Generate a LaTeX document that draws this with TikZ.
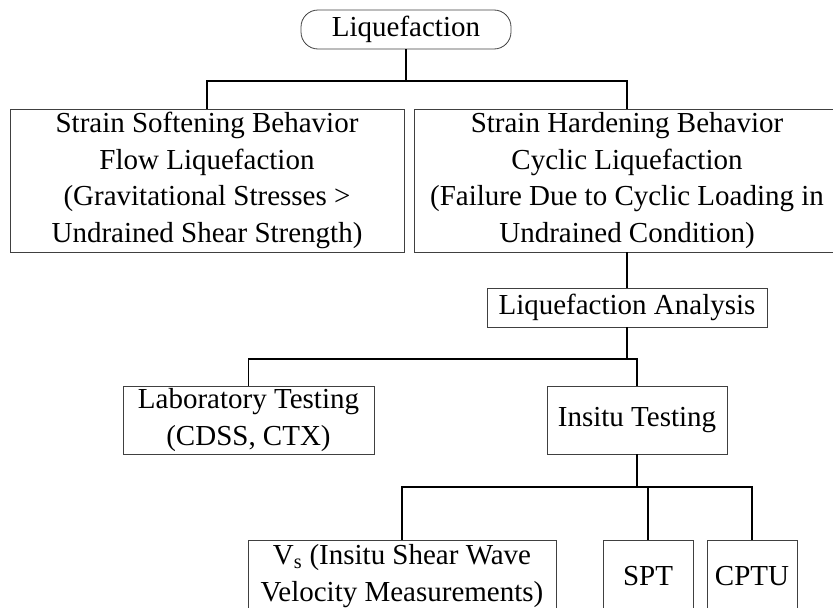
\documentclass[tikz,border=0pt]{standalone}
\usepackage{fontspec}
\setmainfont{Liberation Serif}
\begin{document}
\begin{tikzpicture}
        [x=1pt, y=-1pt,
        box/.style={rectangle, draw=black!75, line width=0.8pt, align=center, inner sep=0pt,
          font=\fontsize{29}{36.5}\selectfont},
        root/.style={box, rounded corners=17pt},
        link/.style={line width=1.6pt, black}]

        \useasboundingbox (0,0) rectangle (833,608);

        \node[root, minimum width=210, minimum height=39] (liq) at (406,29.5) {Liquefaction};
        \node[box, minimum width=394, minimum height=143] (soft) at (207,180.5)
          {Strain Softening Behavior\\Flow Liquefaction\\(Gravitational Stresses >\\Undrained Shear Strength)};
        \node[box, minimum width=426, minimum height=143] (hard) at (627,180.5)
          {Strain Hardening Behavior\\Cyclic Liquefaction\\(Failure Due to Cyclic Loading in\\Undrained Condition)};
        \node[box, minimum width=280, minimum height=39] (ana) at (627,307.5) {Liquefaction Analysis};
        \node[box, minimum width=251, minimum height=68] (lab) at (248.5,420) {Laboratory Testing\\(CDSS, CTX)};
        \node[box, minimum width=180, minimum height=68] (ins) at (637,420) {Insitu Testing};
        \node[box, minimum width=308, minimum height=72] (vs) at (402,576)
          {V\textsubscript{s} (Insitu Shear Wave\\Velocity Measurements)};
        \node[box, minimum width=90, minimum height=72] (spt) at (648,576) {SPT};
        \node[box, minimum width=90, minimum height=72] (cptu) at (752,576) {CPTU};

        % bus lines
        \coordinate (bus1) at (0,81);
        \coordinate (bus2) at (0,359);
        \coordinate (bus3) at (0,487);

        % liquefaction types
        \draw[link] (liq.south) -- (liq.south |- bus1);
        \draw[link] (soft.north) |- (hard.north |- bus1) -- (hard.north);

        % analysis
        \draw[link] (hard.south) -- (ana.north);
        \draw[link] (ana.south) -- (ana.south |- bus2);
        \draw[link] (lab.north) |- (ins.north |- bus2) -- (ins.north);

        % insitu tests
        \draw[link] (ins.south) -- (ins.south |- bus3);
        \draw[link] (vs.north) |- (cptu.north |- bus3) -- (cptu.north);
        \draw[link] (spt.north) -- (spt.north |- bus3);

    \end{tikzpicture}
\end{document}
